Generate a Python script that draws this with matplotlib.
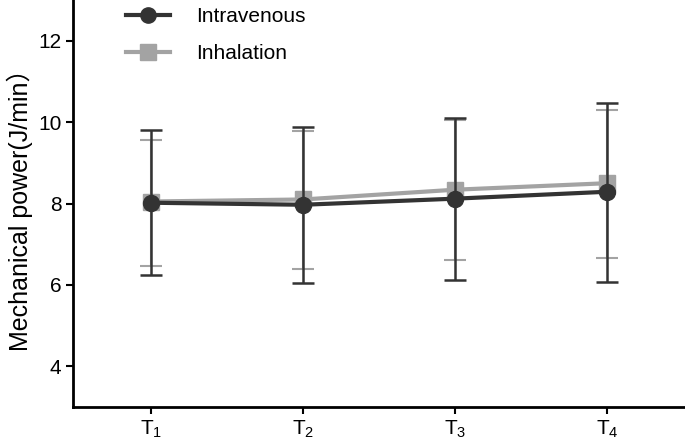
import numpy as np
import matplotlib
matplotlib.use('Agg')
import matplotlib.pyplot as plt
from matplotlib.lines import Line2D

# Data
time_points = [r'T$_{\mathregular{1}}$', r'T$_{\mathregular{2}}$',
               r'T$_{\mathregular{3}}$', r'T$_{\mathregular{4}}$']
iv_mean = [8.02, 7.97, 8.12, 8.29]
iv_upper = [9.80, 9.88, 10.09, 10.47]
iv_lower = [6.25, 6.06, 6.12, 6.08]
inh_mean = [8.05, 8.10, 8.34, 8.50]
inh_upper = [9.57, 9.79, 10.05, 10.30]
inh_lower = [6.47, 6.40, 6.61, 6.65]

IV_COLOR = '#333333'
INH_COLOR = '#a3a3a3'


def main():
    plt.rcParams['font.family'] = ['Liberation Sans', 'Noto Sans CJK SC']
    plt.rcParams['mathtext.fontset'] = 'custom'
    plt.rcParams['mathtext.rm'] = 'Liberation Sans'

    x = np.arange(1, len(time_points) + 1)

    figure = plt.figure(figsize=(6.85, 4.42), dpi=100)
    axis = figure.add_axes([0.107, 0.079, 0.893, 0.921])

    # Inhalation (grey) first so the dark series sits on top
    inh_err = [np.array(inh_mean) - np.array(inh_lower),
               np.array(inh_upper) - np.array(inh_mean)]
    axis.errorbar(x, inh_mean, yerr=inh_err, color=INH_COLOR, marker='s',
                  markersize=12, linewidth=3, elinewidth=1.5, capsize=8,
                  capthick=1.5, zorder=2)

    iv_err = [np.array(iv_mean) - np.array(iv_lower),
              np.array(iv_upper) - np.array(iv_mean)]
    axis.errorbar(x, iv_mean, yerr=iv_err, color=IV_COLOR, marker='o',
                  markersize=11.5, linewidth=3, elinewidth=1.8, capsize=8,
                  capthick=1.8, zorder=3)

    axis.set_xlim(0.49, 4.51)
    axis.set_ylim(3, 13)
    axis.set_xticks(x)
    axis.set_xticklabels(time_points)
    axis.set_yticks([4, 6, 8, 10, 12])
    axis.tick_params(labelsize=15, width=1.5, length=5, color='black')

    for side in ['top', 'right']:
        axis.spines[side].set_visible(False)
    for side in ['left', 'bottom']:
        axis.spines[side].set_linewidth(2)

    axis.set_ylabel('Mechanical power(J/min）', fontsize=18, labelpad=4)

    # Legend with plain line + marker handles
    handles = [
        Line2D([], [], color=IV_COLOR, marker='o', markersize=11, linewidth=3),
        Line2D([], [], color=INH_COLOR, marker='s', markersize=11, linewidth=3),
    ]
    axis.legend(handles, ['Intravenous', 'Inhalation'], loc='upper left',
                bbox_to_anchor=(0.184, 0.984), bbox_transform=figure.transFigure,
                frameon=False, fontsize=15, handlelength=2.1,
                handletextpad=1.25, labelspacing=0.86, borderpad=0,
                borderaxespad=0)

    figure.savefig('out.png', dpi=100)


if __name__ == '__main__':
    main()
